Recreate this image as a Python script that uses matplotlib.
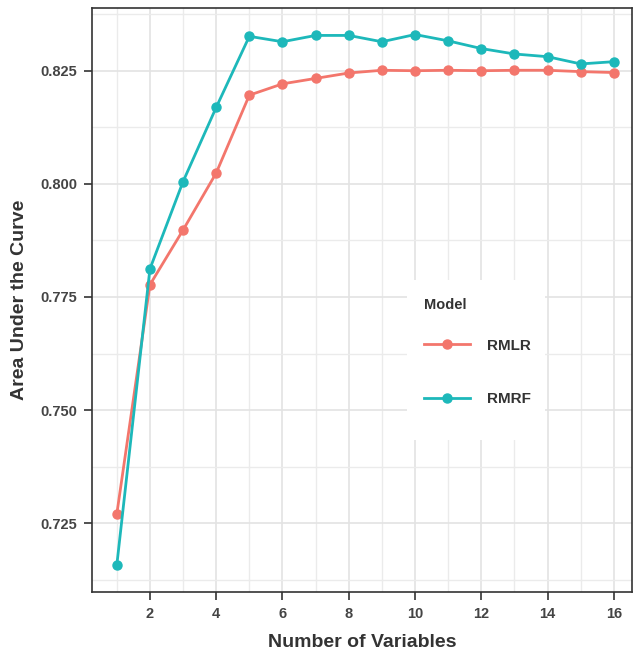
import matplotlib
matplotlib.use("Agg")
import matplotlib.pyplot as plt
from matplotlib.patches import Rectangle
from matplotlib.ticker import MultipleLocator

n_vars = list(range(1, 17))
rmlr_auc = [0.7270, 0.7777, 0.7898, 0.8024, 0.8196, 0.8221, 0.8233, 0.8245,
            0.8251, 0.8250, 0.8251, 0.8250, 0.8251, 0.8251, 0.8248, 0.8246]
rmrf_auc = [0.7157, 0.7812, 0.8005, 0.8169, 0.8326, 0.8314, 0.8328, 0.8328,
            0.8314, 0.8330, 0.8316, 0.8299, 0.8287, 0.8281, 0.8265, 0.8270]
x_ticks = [2, 4, 6, 8, 10, 12, 14, 16]
y_ticks = [0.725, 0.750, 0.775, 0.800, 0.825]

plt.rcParams["font.family"] = ["Liberation Sans", "DejaVu Sans"]

red = "#F3766C"
teal = "#1DB8BA"
dark = "#444444"

fig = plt.figure(figsize=(6.34, 6.52), dpi=100)
ax = fig.add_axes([0.145, 0.092, 0.852, 0.896])

ax.plot(n_vars, rmlr_auc, "-o", color=red, lw=2, ms=6.5, label="RMLR", zorder=3)
ax.plot(n_vars, rmrf_auc, "-o", color=teal, lw=2, ms=6.5, label="RMRF", zorder=3)

ax.set_xlim(0.25, 16.55)
ax.set_ylim(0.7098, 0.8389)
ax.set_xticks(x_ticks)
ax.set_yticks(y_ticks)
ax.set_yticklabels([f"{v:.3f}" for v in y_ticks])
ax.xaxis.set_minor_locator(MultipleLocator(1))
ax.yaxis.set_minor_locator(MultipleLocator(0.0125))
ax.grid(True, which="major", color="#E3E3E3", lw=1.2, zorder=0)
ax.grid(True, which="minor", color="#EBEBEB", lw=1.0, zorder=0)
ax.set_axisbelow(True)
ax.tick_params(which="major", length=5.5, width=1.2, color="#333333", pad=5,
               labelsize=10.5, labelcolor=dark)
ax.tick_params(which="minor", length=0)
for lab in ax.get_xticklabels() + ax.get_yticklabels():
    lab.set_fontweight("bold")
for sp in ax.spines.values():
    sp.set_color("#333333")
    sp.set_linewidth(1.2)

ax.set_xlabel("Number of Variables", fontsize=14, fontweight="bold", color="#333333", labelpad=10)
ax.set_ylabel("Area Under the Curve", fontsize=14, fontweight="bold", color="#333333", labelpad=9)

# white legend background, like ggplot's legend.background
ax.add_patch(Rectangle((0.583, 0.260), 0.256, 0.274, transform=ax.transAxes,
                       facecolor="white", edgecolor="none", zorder=1))

leg = ax.legend(title="Model", loc="upper left", bbox_to_anchor=(0.583, 0.534),
                frameon=False, fontsize=11, title_fontsize=10.5, labelspacing=2.6,
                handlelength=3, handletextpad=1.1, borderpad=1.15, borderaxespad=0)
leg._legend_box.align = "left"
leg._legend_box.sep = 19.5
leg.get_title().set_fontweight("bold")
leg.get_title().set_color("#333333")
for t in leg.get_texts():
    t.set_fontweight("bold")
    t.set_color("#333333")

fig.savefig("out.png", dpi=100)
